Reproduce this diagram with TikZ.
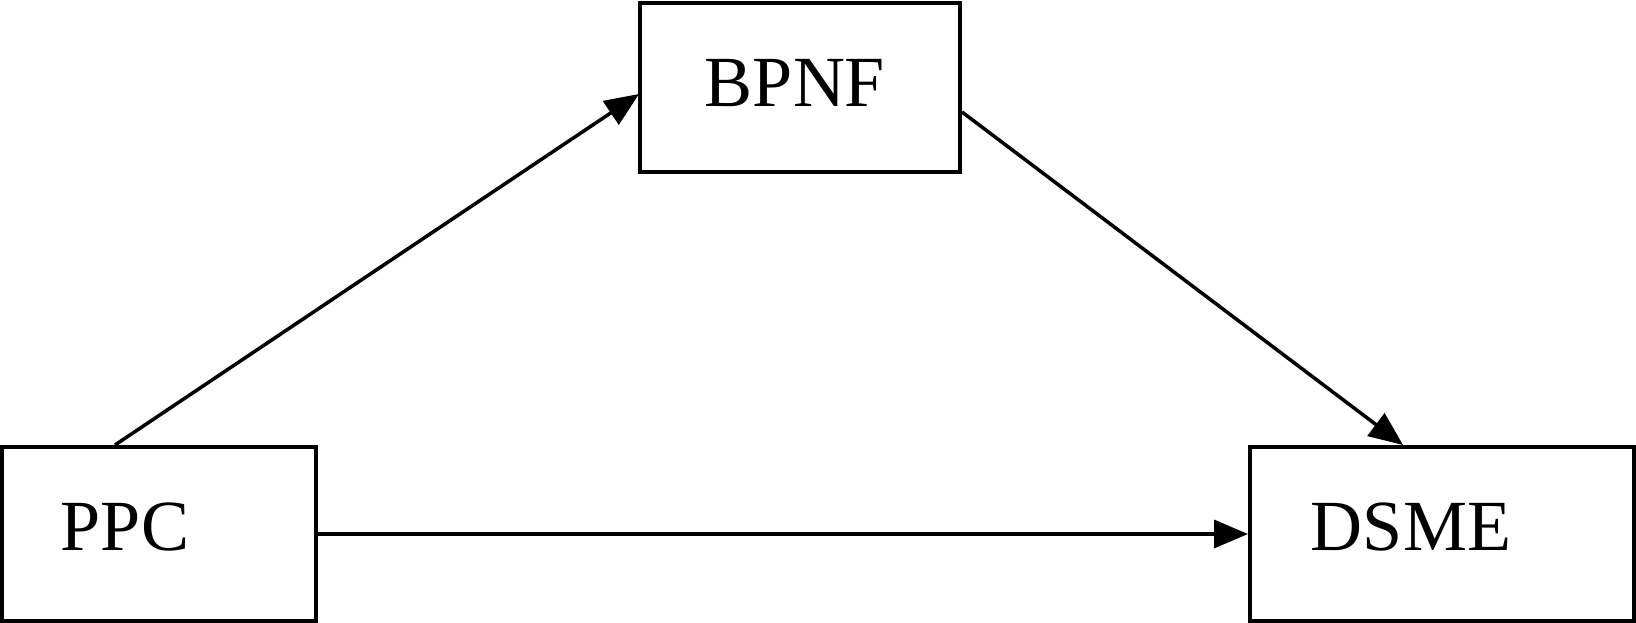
\documentclass[tikz,border=0pt]{standalone}
\usepackage{fontspec}
\setmainfont{Liberation Serif}
\usetikzlibrary{arrows.meta}
\begin{document}
\begin{tikzpicture}[x=1pt,y=-1pt,
  box/.style={draw,line width=4pt},
  lbl/.style={font=\fontsize{72}{72}\selectfont,inner sep=0pt},
  arr/.style={line width=3.5pt,-{Triangle[length=34pt,width=28pt]}}]
\useasboundingbox (0,0) rectangle (1636,623);
\draw[box] (2,447) rectangle (316,621);
\draw[box] (1250,447) rectangle (1634,621);
\draw[box] (640,3) rectangle (960,172);
\node[lbl] (ppc) at (125,527) {PPC};
\node[lbl] (dsme) at (1411,527) {DSME};
\node[lbl] (bpnf) at (795,83) {BPNF};
\coordinate (a1) at (115,445);
\coordinate (a2) at (639,94);
\coordinate (b1) at (962,112);
\coordinate (b2) at (1403,445);
\coordinate (c1) at (318,534);
\coordinate (c2) at (1248,534);
\draw[arr] (a1) -- (a2);
\draw[arr] (b1) -- (b2);
\draw[arr] (c1) -- (c2);
\end{tikzpicture}
\end{document}
